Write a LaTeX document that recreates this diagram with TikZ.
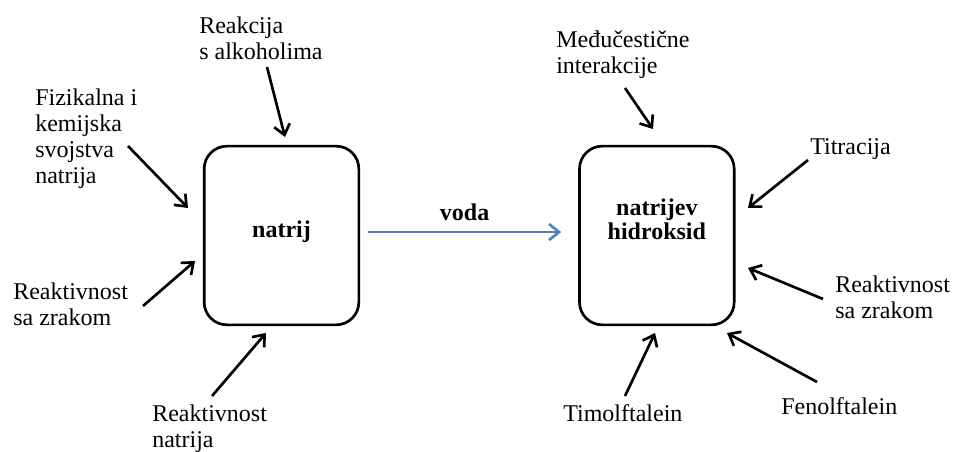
\documentclass[tikz,border=0pt]{standalone}
\usepackage{fontspec}
\setmainfont{Liberation Serif}
\newfontfamily\labelface{Liberation Serif}
\usetikzlibrary{arrows.meta, positioning}
\definecolor{vodablue}{RGB}{79,129,189}

\begin{document}
\begin{tikzpicture}[x=0.75pt, y=-0.75pt,
    font=\labelface\fontsize{18}{19.5}\selectfont,
    stage/.style={draw, line width=2pt, rounded corners=17pt,
      minimum width=116pt, minimum height=134pt, inner sep=0pt},
    inbox/.style={font=\labelface\fontsize{18}{18}\selectfont\bfseries,
      align=center},
    lbl/.style={align=left, inner sep=0pt, anchor=north west},
    feed/.style={-{Straight Barb[length=7.5pt, width=12pt]}, line width=2pt},
    water/.style={vodablue, line width=2pt,
      -{Straight Barb[length=7.5pt, width=12pt]}}]
  \useasboundingbox (0,0) rectangle (956,452);

  % Main substances
  \node[stage, label={[inbox, name=natrij-txt, yshift=3pt]center:natrij}]
    (natrij) at (281.5,235.5) {};
  \node[stage, right=163.5pt of natrij,
    label={[inbox, name=hidroksid-txt, yshift=12.4pt]center:natrijev\\hidroksid}]
    (hidroksid) {};

  % Reaction with water
  \draw[water] ([xshift=6pt, yshift=2.6pt]natrij.east)
    -- ([xshift=-12.75pt, yshift=2.6pt]hidroksid.west)
    node[midway, anchor=base, yshift=9pt, text=black,
      font=\labelface\fontsize{18}{18}\selectfont\bfseries] (voda) {voda};

  % Topics around natrij
  \node[lbl] (alk) at (199,16.6) {Reakcija\\s alkoholima};
  \node[lbl] (svojstva) at (35,88.6) {Fizikalna i\\kemijska\\svojstva\\natrija};
  \node[lbl] (zrak-l) at (13,282.6) {Reaktivnost\\sa zrakom};
  \node[lbl] (reakt) at (152,404.6) {Reaktivnost\\natrija};

  % Topics around natrijev hidroksid
  \node[lbl] (medju) at (556,30.6) {Međučestične\\interakcije};
  \node[lbl] (titr) at (810,138.6) {Titracija};
  \node[lbl] (zrak-r) at (835,275.6) {Reaktivnost\\sa zrakom};
  \node[lbl] (timol) at (563,404.6) {Timolftalein};
  \node[lbl] (fenol) at (781,397.6) {Fenolftalein};

  % Arrow ends
  \coordinate (alk-a) at (267,67);    \coordinate (alk-b) at (285,137);
  \coordinate (svo-a) at (128,146);   \coordinate (svo-b) at (188,208);
  \coordinate (zl-a) at (143,306);    \coordinate (zl-b) at (195,261);
  \coordinate (rea-a) at (212,396);   \coordinate (rea-b) at (266,333);
  \coordinate (med-a) at (625,88);    \coordinate (med-b) at (653,129);
  \coordinate (tit-a) at (808,160);   \coordinate (tit-b) at (748,208);
  \coordinate (zr-a) at (823,299);    \coordinate (zr-b) at (748,268);
  \coordinate (tim-a) at (625,396);   \coordinate (tim-b) at (655,333);
  \coordinate (fen-a) at (817,382);   \coordinate (fen-b) at (727,333);

  \foreach \a/\b in {alk-a/alk-b, svo-a/svo-b, zl-a/zl-b, rea-a/rea-b,
      med-a/med-b, tit-a/tit-b, zr-a/zr-b, tim-a/tim-b, fen-a/fen-b}
    \draw[feed] (\a) -- (\b);
\end{tikzpicture}
\end{document}
